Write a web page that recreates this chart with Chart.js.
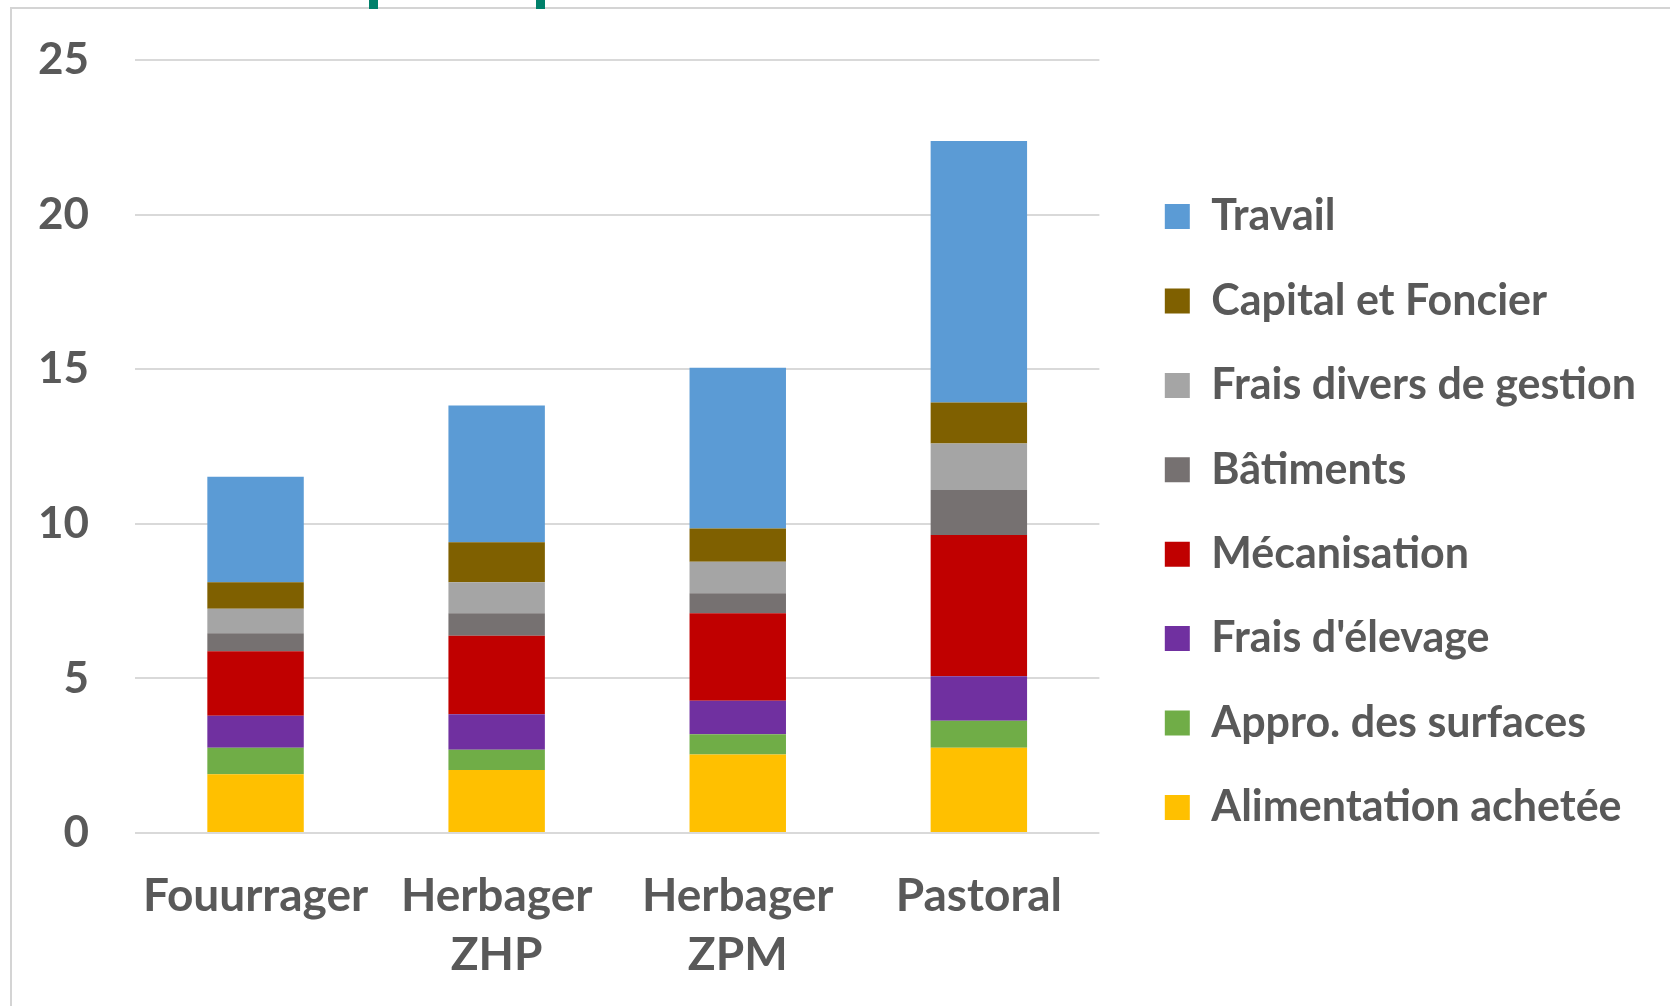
<!DOCTYPE html>
<html>
<head>
<meta charset="utf-8">
<script src="https://cdn.jsdelivr.net/npm/chart.js@4.4.1/dist/chart.umd.min.js"></script>
<style>
  html, body { margin: 0; padding: 0; background: #fff; }
  #wrap { position: relative; width: 1670px; height: 1006px; overflow: hidden; }
  #chart { position: absolute; left: 0; top: 0; }
  .frame-top { position: absolute; left: 10px; top: 7px; width: 1660px; height: 2px; background: #d4d4d4; }
  .frame-left { position: absolute; left: 10px; top: 7px; width: 2px; height: 999px; background: #d4d4d4; }
  .tab { position: absolute; top: 0; width: 9px; height: 9px; background: #00806a; }
</style>
</head>
<body>
<div id="wrap">
  <canvas id="chart" width="1670" height="1006"></canvas>
  <div class="frame-top"></div>
  <div class="frame-left"></div>
  <div class="tab" style="left:369px"></div>
  <div class="tab" style="left:536px"></div>
</div>
<script>
const categories = ['Fouurrager', ['Herbager', 'ZHP'], ['Herbager', 'ZPM'], 'Pastoral'];

// bottom to top of each stack
const alimentation = [1.90, 2.04, 2.54, 2.76];
const appro = [0.86, 0.65, 0.65, 0.87];
const elevage = [1.03, 1.15, 1.09, 1.44];
const mecanisation = [2.09, 2.54, 2.83, 4.57];
const batiments = [0.58, 0.73, 0.64, 1.45];
const fraisDivers = [0.79, 1.00, 1.02, 1.51];
const capital = [0.86, 1.29, 1.08, 1.32];
const travail = [3.41, 4.43, 5.20, 8.46];

const yTicks = [0, 5, 10, 15, 20, 25];

const textColor = '#595959';
const fontFamily = 'Lato, "Open Sans", sans-serif';

initChart();

function initChart() {
    const ctx = document.getElementById('chart').getContext('2d');
    new Chart(ctx, {
        type: 'bar',
        data: {
            labels: categories,
            datasets: [
                { label: 'Alimentation achetée', data: alimentation, backgroundColor: '#ffc000' },
                { label: 'Appro. des surfaces', data: appro, backgroundColor: '#70ad47' },
                { label: "Frais d'élevage", data: elevage, backgroundColor: '#7030a0' },
                { label: 'Mécanisation', data: mecanisation, backgroundColor: '#c00000' },
                { label: 'Bâtiments', data: batiments, backgroundColor: '#767171' },
                { label: 'Frais divers de gestion', data: fraisDivers, backgroundColor: '#a5a5a5' },
                { label: 'Capital et Foncier', data: capital, backgroundColor: '#7f6000' },
                { label: 'Travail', data: travail, backgroundColor: '#5b9bd5' }
            ]
        },
        options: {
            responsive: false,
            animation: false,
            barPercentage: 0.4,
            categoryPercentage: 1.0,
            layout: { padding: { left: 0, top: 18, right: 24, bottom: 0 } },
            plugins: {
                tooltip: { enabled: false },
                // empty title only reserves the space above the plot
                title: { display: true, text: ' ', padding: 0, font: { size: 35, lineHeight: 1.2 } },
                legend: {
                    position: 'right',
                    reverse: true,
                    maxWidth: 1000,
                    labels: {
                        color: textColor,
                        boxWidth: 25,
                        boxHeight: 25,
                        padding: 41.4,
                        font: { family: fontFamily, size: 43, weight: 'bold' }
                    }
                }
            },
            scales: {
                x: {
                    stacked: true,
                    grid: { display: false },
                    border: { display: false },
                    ticks: {
                        color: textColor,
                        padding: 26,
                        maxRotation: 0,
                        autoSkip: false,
                        font: { family: fontFamily, size: 46, weight: 'bold', lineHeight: 59 / 46 }
                    },
                    afterFit: s => { s.height = 173; }
                },
                y: {
                    stacked: true,
                    min: 0,
                    max: 25,
                    afterBuildTicks: s => { s.ticks = yTicks.map(v => ({ value: v })); },
                    grid: { color: '#d9d9d9', lineWidth: 2, drawTicks: true, tickLength: 46, tickColor: 'rgba(0,0,0,0)' },
                    border: { display: false },
                    ticks: {
                        color: textColor,
                        padding: 0,
                        font: { family: fontFamily, size: 44, weight: 'bold' }
                    },
                    afterFit: s => { s.width = 135; }
                },
                gap: {
                    type: 'linear',
                    position: 'right',
                    grid: { display: false },
                    border: { display: false },
                    ticks: { display: false },
                    afterFit: s => { s.width = 24; }
                }
            }
        }
    });
}
</script>
</body>
</html>
